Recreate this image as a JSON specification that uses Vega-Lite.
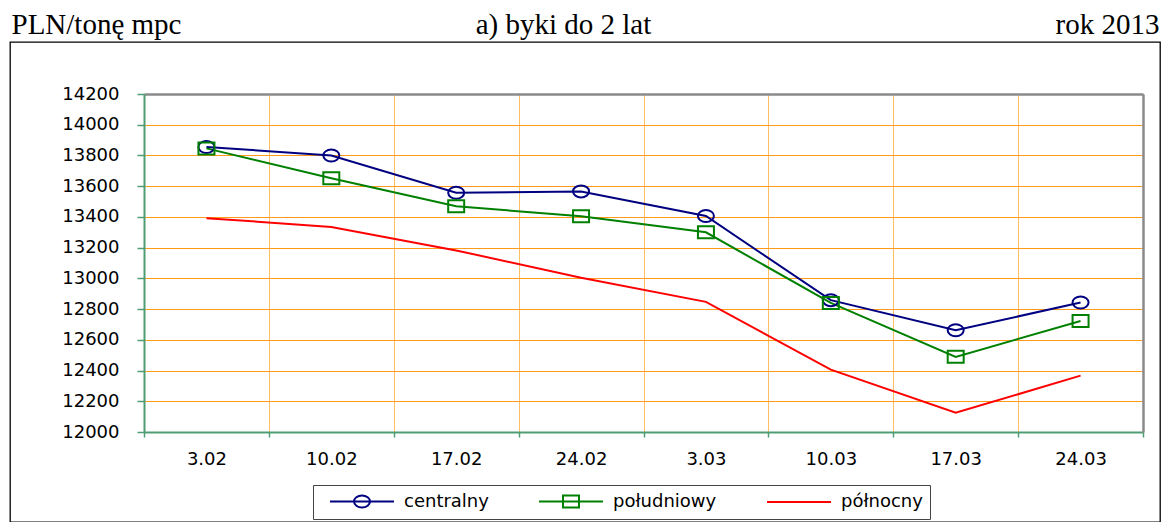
{
  "$schema": "https://vega.github.io/schema/vega-lite/v6.json",
  "width": 1150,
  "height": 480,
  "autosize": {"type": "none"},
  "padding": {"left": 10, "top": 42, "right": 2, "bottom": 0},
  "background": "white",
  "config": {
    "view": {"stroke": "black", "strokeWidth": 1.3},
    "font": "DejaVu Sans"
  },
  "data": {
    "values": [
      {"week": "3.02", "series": "centralny", "price": 13855},
      {"week": "10.02", "series": "centralny", "price": 13800},
      {"week": "17.02", "series": "centralny", "price": 13557},
      {"week": "24.02", "series": "centralny", "price": 13566},
      {"week": "3.03", "series": "centralny", "price": 13406},
      {"week": "10.03", "series": "centralny", "price": 12858},
      {"week": "17.03", "series": "centralny", "price": 12662},
      {"week": "24.03", "series": "centralny", "price": 12843},
      {"week": "3.02", "series": "południowy", "price": 13846},
      {"week": "10.02", "series": "południowy", "price": 13651},
      {"week": "17.02", "series": "południowy", "price": 13469},
      {"week": "24.02", "series": "południowy", "price": 13405},
      {"week": "3.03", "series": "południowy", "price": 13300},
      {"week": "10.03", "series": "południowy", "price": 12840},
      {"week": "17.03", "series": "południowy", "price": 12489},
      {"week": "24.03", "series": "południowy", "price": 12723},
      {"week": "3.02", "series": "północny", "price": 13392},
      {"week": "10.02", "series": "północny", "price": 13335},
      {"week": "17.02", "series": "północny", "price": 13182},
      {"week": "24.02", "series": "północny", "price": 13004},
      {"week": "3.03", "series": "północny", "price": 12847},
      {"week": "10.03", "series": "północny", "price": 12406},
      {"week": "17.03", "series": "północny", "price": 12125},
      {"week": "24.03", "series": "północny", "price": 12367}
    ]
  },
  "layer": [
    {
      "mark": {"type": "line", "strokeWidth": 2},
      "encoding": {
        "x": {
          "field": "week",
          "type": "ordinal",
          "scale": {
            "type": "band",
            "domain": ["3.02", "10.02", "17.02", "24.02", "3.03", "10.03", "17.03", "24.03"],
            "range": [134, 1133],
            "paddingInner": 0,
            "paddingOuter": 0
          },
          "axis": {
            "orient": "bottom",
            "offset": -90,
            "tickBand": "extent",
            "grid": false,
            "domainColor": "#4f9d74",
            "domainWidth": 2,
            "tickColor": "#4f9d74",
            "tickSize": 5,
            "tickWidth": 1.5,
            "labelFont": "DejaVu Sans",
            "labelFontSize": 18,
            "labelColor": "black",
            "labelPadding": 13,
            "labelAngle": 0,
            "title": null
          }
        },
        "y": {
          "field": "price",
          "type": "quantitative",
          "scale": {"domain": [12000, 14200], "range": [390, 52], "nice": false, "zero": false},
          "axis": {
            "orient": "left",
            "offset": -134,
            "values": [12000, 12200, 12400, 12600, 12800, 13000, 13200, 13400, 13600, 13800, 14000, 14200],
            "format": "d",
            "grid": true,
            "gridColor": "#ff9a1a",
            "gridWidth": 1,
            "domainColor": "#4f9d74",
            "domainWidth": 2,
            "tickColor": "#4f9d74",
            "tickSize": 7,
            "tickWidth": 1.5,
            "labelFont": "DejaVu Sans",
            "labelFontSize": 18,
            "labelColor": "black",
            "labelPadding": 18,
            "title": "PLN/tonę mpc",
            "titleAngle": 0,
            "titleX": -133,
            "titleY": -9,
            "titleAlign": "left",
            "titleBaseline": "alphabetic",
            "titleFont": "Liberation Serif",
            "titleFontSize": 29,
            "titleFontWeight": "normal",
            "titleColor": "black"
          }
        },
        "color": {
          "field": "series",
          "type": "nominal",
          "scale": {
            "domain": ["centralny", "południowy", "północny"],
            "range": ["#000080", "#008000", "#ff0000"]
          },
          "legend": {
            "orient": "none",
            "legendX": 303,
            "legendY": 443,
            "direction": "horizontal",
            "title": null,
            "strokeColor": "#444444",
            "padding": 7,
            "symbolSize": 144,
            "symbolStrokeWidth": 2,
            "labelFont": "DejaVu Sans",
            "labelFontSize": 18,
            "labelColor": "black",
            "labelOffset": 66,
            "columnPadding": 40,
            "gridAlign": "each",
            "encode": {
              "symbols": {
                "update": {
                  "shape": {"signal": "datum.value === 'centralny' ? 'M0.1667,0H10.833M6.833,0A1.333,1 0 1 1 4.167,0A1.333,1 0 1 1 6.833,0Z' : (datum.value === 'południowy' ? 'M0.1667,0H10.833M4.167,-1H6.833V1H4.167Z' : 'M0.1667,0H10.833')"},
                  "fill": {"value": "transparent"},
                  "strokeWidth": {"value": 2}
                }
              }
            }
          }
        }
      }
    },
    {
      "transform": [{"filter": "datum.series !== 'północny'"}],
      "mark": {"type": "point", "filled": false, "size": 144, "strokeWidth": 2, "opacity": 1},
      "encoding": {
        "x": {
          "field": "week",
          "type": "ordinal",
          "axis": {
            "orient": "top",
            "offset": -52,
            "tickBand": "extent",
            "grid": true,
            "gridColor": "#ffbf5e",
            "gridWidth": 1,
            "labels": false,
            "ticks": false,
            "domain": true,
            "domainColor": "#8a8a8a",
            "domainWidth": 2.5,
            "title": "a) byki do 2 lat",
            "titleAngle": 0,
            "titleX": 553,
            "titleY": -61,
            "titleAlign": "center",
            "titleBaseline": "alphabetic",
            "titleFont": "Liberation Serif",
            "titleFontSize": 29,
            "titleFontWeight": "normal",
            "titleColor": "black"
          }
        },
        "y": {
          "field": "price",
          "type": "quantitative",
          "axis": {
            "orient": "right",
            "offset": -17,
            "grid": false,
            "labels": false,
            "ticks": false,
            "domain": true,
            "domainColor": "#8a8a8a",
            "domainWidth": 2.5,
            "title": "rok 2013",
            "titleAngle": 0,
            "titleX": 16,
            "titleY": -9,
            "titleAlign": "right",
            "titleBaseline": "alphabetic",
            "titleFont": "Liberation Serif",
            "titleFontSize": 29,
            "titleFontWeight": "normal",
            "titleColor": "black"
          }
        },
        "color": {"field": "series", "type": "nominal", "legend": null},
        "shape": {
          "field": "series",
          "type": "nominal",
          "scale": {
            "domain": ["centralny", "południowy"],
            "range": ["M1.333,0A1.333,1 0 1 1 -1.333,0A1.333,1 0 1 1 1.333,0Z", "M-1.333,-1H1.333V1H-1.333Z"]
          },
          "legend": null
        }
      }
    }
  ],
  "resolve": {"axis": {"x": "independent", "y": "independent"}}
}
